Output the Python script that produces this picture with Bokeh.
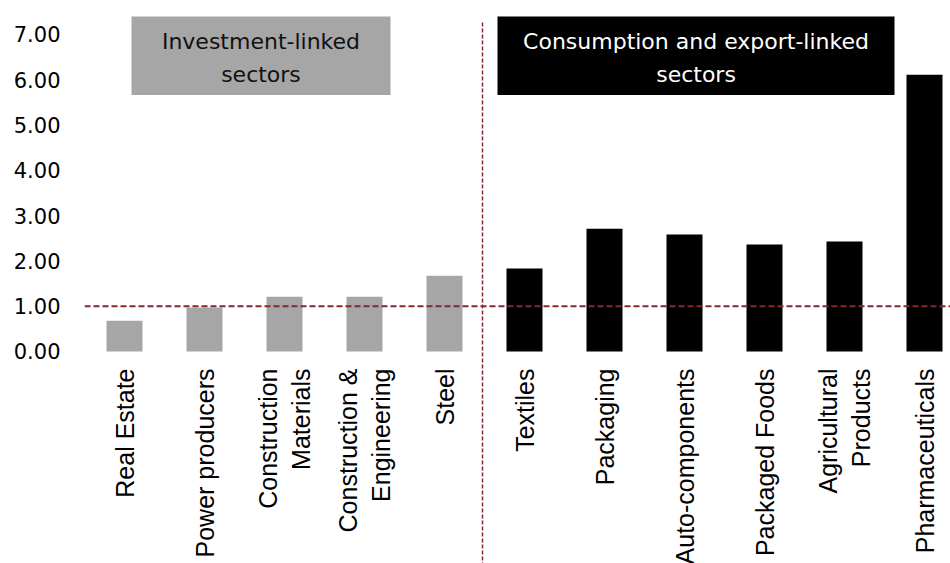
import math
from bokeh.plotting import figure
from bokeh.models import ColumnDataSource, Range1d, FixedTicker, NumeralTickFormatter, Span
from bokeh.core.properties import value
from bokeh.embed import file_html
from bokeh.resources import INLINE

# ---- data ----
sectors = ["Real Estate", "Power producers", "Construction\nMaterials",
           "Construction &\nEngineering", "Steel", "Textiles", "Packaging",
           "Auto-components", "Packaged Foods", "Agricultural\nProducts",
           "Pharmaceuticals"]
ratios = [0.68, 0.97, 1.21, 1.21, 1.67, 1.83, 2.71, 2.58, 2.36, 2.43, 6.11]
groups = ["investment"] * 5 + ["consumption"] * 6
group_titles = ["Investment-linked\nsectors", "Consumption and export-linked\nsectors"]
y_ticks = [0, 1, 2, 3, 4, 5, 6, 7]
reference_level = 1.0

# ---- styling ----
GREY = "#A6A6A6"
BLACK = "#000000"
RED = "#862633"
color_map = {"investment": GREY, "consumption": BLACK}

xs = list(range(len(sectors)))
src = ColumnDataSource(dict(x=xs, top=ratios, label=sectors,
                            color=[color_map[g] for g in groups]))

p = figure(width=950, height=563, output_backend="svg", toolbar_location=None,
           x_axis_location=None, x_range=Range1d(-0.5, 10.325),
           y_range=Range1d(-4.68, 7.748),
           min_border_left=84, min_border_right=0, min_border_top=0,
           min_border_bottom=0)
p.outline_line_color = None
p.xgrid.visible = False
p.ygrid.visible = False
p.background_fill_color = "white"
p.border_fill_color = "white"

# y axis
ax = p.yaxis[0]
ax.ticker = FixedTicker(ticks=y_ticks)
ax.formatter = NumeralTickFormatter(format="0.00")
ax.axis_line_color = None
ax.major_tick_line_color = None
ax.minor_tick_line_color = None
ax.major_tick_in = 0
ax.major_tick_out = 0
ax.major_label_standoff = 24
ax.major_label_text_font = "DejaVu Sans"
ax.major_label_text_font_size = "21px"
ax.major_label_text_color = "#000000"

# bars
p.vbar(x="x", top="top", bottom=0, width=0.45, color="color", source=src,
       line_color=None)

# reference lines
p.add_layout(Span(location=reference_level, dimension="width", line_color=RED,
                  line_width=2, line_dash="6 3"))
p.segment(x0=[4.475], y0=[7.263], x1=[4.475], y1=[-4.68], line_color=RED,
          line_width=1.5, line_dash="4 2")

# group header boxes
p.quad(left=[0.0875, 4.6625], right=[3.325, 9.625], bottom=[5.662, 5.662],
       top=[7.395, 7.395], fill_color=[GREY, BLACK], line_color=None)
p.text(x=[1.706, 7.144], y=[6.48, 6.48], text=group_titles,
       text_color=["#111111", "#FFFFFF"], text_font=value("DejaVu Sans"),
       text_font_size="22px", text_align="center", text_baseline="middle",
       text_line_height=1.32)

# category labels (rotated)
p.text(x="x", y=-0.375, text="label", source=src, angle=math.pi / 2,
       text_align="right", text_baseline="middle",
       text_font=value("Liberation Sans"), text_font_size="25px",
       text_color="#000000", text_line_height=1.2)

open("out.html", "w").write(file_html(p, INLINE))
